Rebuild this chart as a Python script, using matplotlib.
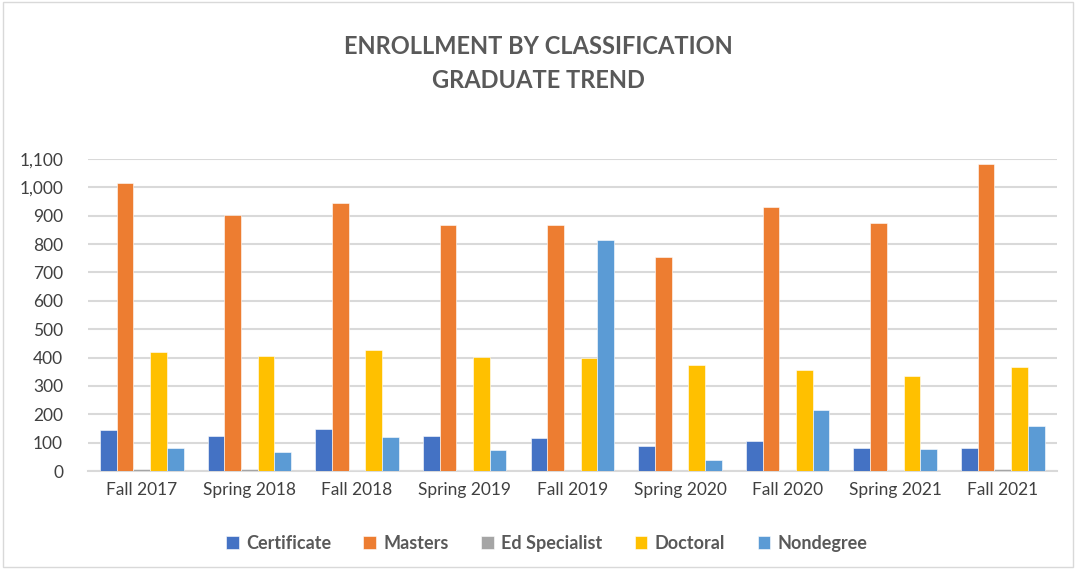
import numpy as np
import matplotlib
matplotlib.use("Agg")
import matplotlib.pyplot as plt
from matplotlib.patches import Rectangle

plt.rcParams['font.family'] = ['Lato', 'DejaVu Sans']

terms = ["Fall 2017", "Spring 2018", "Fall 2018", "Spring 2019", "Fall 2019",
         "Spring 2020", "Fall 2020", "Spring 2021", "Fall 2021"]
certificate = [145, 124, 148, 125, 118, 87, 106, 82, 82]
masters = [1014, 902, 945, 867, 866, 753, 932, 876, 1081]
ed_specialist = [8, 6, 5, 2, 1, 1, 2, 5, 8]
doctoral = [418, 407, 428, 402, 400, 373, 355, 336, 365]
nondegree = [80, 68, 121, 74, 816, 40, 214, 76, 160]

series = [("Certificate", certificate, "#4472C4"),
          ("Masters", masters, "#ED7D31"),
          ("Ed Specialist", ed_specialist, "#A5A5A5"),
          ("Doctoral", doctoral, "#FFC000"),
          ("Nondegree", nondegree, "#5B9BD5")]

fig = plt.figure(figsize=(10.76, 5.69), dpi=100)
ax = fig.add_axes([0.0818, 0.1722, 0.9002, 0.5484])

x = np.arange(len(terms))
w = 0.155
for i, (name, vals, col) in enumerate(series):
    ax.bar(x + (i - 2) * w, vals, w, color=col, label=name,
           edgecolor="white", linewidth=0.4, zorder=3)

ax.set_xlim(-0.5, len(terms) - 0.5)
ax.set_ylim(0, 1100)
ax.set_yticks(range(0, 1101, 100))
ax.set_yticklabels([f"{v:,}" for v in range(0, 1101, 100)])
ax.set_xticks(x)
ax.set_xticklabels(terms)
ax.tick_params(axis='both', length=0, labelsize=12.5, colors="#404040", pad=8)
ax.tick_params(axis='y', pad=18)
ax.grid(axis='y', color="#D9D9D9", linewidth=1.5, zorder=0)
for s in ["top", "right", "left"]:
    ax.spines[s].set_visible(False)
ax.spines["bottom"].set_color("#D9D9D9")
ax.spines["bottom"].set_linewidth(1.5)

fig.text(0.5, 0.918, "ENROLLMENT BY CLASSIFICATION", ha="center", va="center",
         fontsize=17, fontweight="bold", color="#595959")
fig.text(0.5, 0.858, "GRADUATE TREND", ha="center", va="center",
         fontsize=17, fontweight="bold", color="#595959")

leg = fig.legend(loc="center", bbox_to_anchor=(0.508, 0.045), ncol=5, frameon=False,
                 handlelength=0.7, handleheight=0.7, handletextpad=0.4,
                 columnspacing=1.8, prop={"size": 13, "weight": "bold"})
for t in leg.get_texts():
    t.set_color("#595959")

fig.patches.append(Rectangle((0.003, 0.003), 0.994, 0.994, transform=fig.transFigure,
                             fill=False, edgecolor="#D9D9D9", linewidth=1))

fig.savefig("out.png", dpi=100)
